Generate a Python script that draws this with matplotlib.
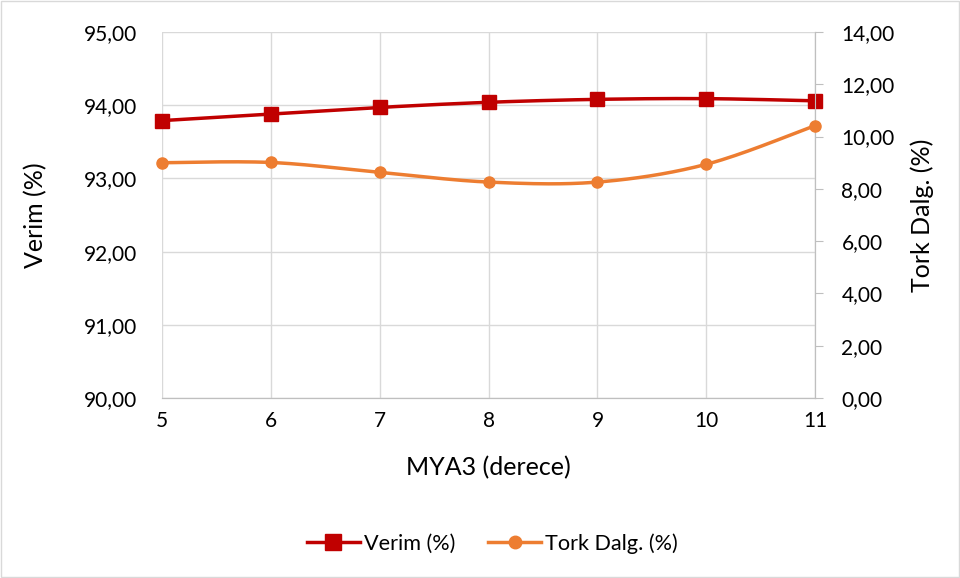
import numpy as np
import matplotlib
matplotlib.use("Agg")
import matplotlib.pyplot as plt
from matplotlib.lines import Line2D

plt.rcParams['font.family'] = ['Lato', 'DejaVu Sans']

# ---- data ----
mya3 = [5, 6, 7, 8, 9, 10, 11]
verim = [93.79, 93.88, 93.97, 94.04, 94.08, 94.09, 94.06]
tork = [9.00, 9.01, 8.63, 8.26, 8.26, 8.94, 10.42]

left_ticks = [90, 91, 92, 93, 94, 95]
right_ticks = [0, 2, 4, 6, 8, 10, 12, 14]

RED = "#c00000"
ORANGE = "#ed7d31"
GRID = "#d9d9d9"


def smooth(x, y, n=30):
    """Excel-style smoothed line: Catmull-Rom bezier through the points."""
    x = np.asarray(x, float)
    y = np.asarray(y, float)
    px = np.concatenate([[x[0]], x, [x[-1]]])
    py = np.concatenate([[y[0]], y, [y[-1]]])
    xs, ys = [], []
    t = np.linspace(0, 1, n)
    for i in range(1, len(px) - 2):
        p0 = np.array([px[i], py[i]])
        p3 = np.array([px[i + 1], py[i + 1]])
        p1 = p0 + (np.array([px[i + 1], py[i + 1]]) - np.array([px[i - 1], py[i - 1]])) / 6
        p2 = p3 - (np.array([px[i + 2], py[i + 2]]) - np.array([px[i], py[i]])) / 6
        b = ((1 - t) ** 3)[:, None] * p0 + (3 * (1 - t) ** 2 * t)[:, None] * p1 \
            + (3 * (1 - t) * t ** 2)[:, None] * p2 + (t ** 3)[:, None] * p3
        xs.append(b[:, 0]); ys.append(b[:, 1])
    return np.concatenate(xs), np.concatenate(ys)


fig = plt.figure(figsize=(9.6, 5.78), dpi=100)
fig.patches.append(plt.Rectangle((0.001, 0.001), 0.998, 0.998, transform=fig.transFigure,
                                 fill=False, edgecolor=GRID, lw=1))
ax = fig.add_axes([0.169, 0.3114, 0.680, 0.6332])
ax2 = ax.twinx()

ax.set_xlim(5, 11)
ax.set_ylim(90, 95)
ax2.set_ylim(0, 14)

ax.set_xticks(mya3)
ax.set_yticks(left_ticks)
ax2.set_yticks(right_ticks)
ax.set_yticklabels([f"{v:.2f}".replace(".", ",") for v in left_ticks])
ax2.set_yticklabels([f"{v:.2f}".replace(".", ",") for v in right_ticks])

ax.grid(True, color=GRID, lw=1)
ax.set_axisbelow(True)
for a in (ax, ax2):
    for s in ("top", "left"):
        a.spines[s].set_visible(False)
    a.spines["right"].set_color("#bfbfbf")
    a.spines["bottom"].set_color("#bfbfbf")
ax.tick_params(axis="y", length=0, labelsize=15, pad=18, colors="#000000")
ax.tick_params(axis="x", length=0, labelsize=15, pad=9, colors="#000000")
ax2.tick_params(axis="y", length=6, labelsize=15, pad=13, colors="#000000")
ax2.tick_params(axis="y", color="#bfbfbf")

xs, ys = smooth(mya3, verim)
ax.plot(xs, ys, color=RED, lw=2.5, zorder=3)
ax.plot(mya3, verim, ls="none", marker="s", ms=10, color=RED, zorder=4, clip_on=False)

xs, ys = smooth(mya3, tork)
ax2.plot(xs, ys, color=ORANGE, lw=2.5, zorder=3)
ax2.plot(mya3, tork, ls="none", marker="o", ms=8, color=ORANGE, zorder=4, clip_on=False)

ax.set_ylabel("Verim (%)", fontsize=18, color="#000000", va="center", ha="center")
ax.yaxis.set_label_coords(-0.1945, 0.5)
ax2.set_ylabel("Tork Dalg. (%)", fontsize=18, color="#000000", va="center", ha="center")
ax2.yaxis.set_label_coords(1.164, 0.5)
ax.set_xlabel("MYA3 (derece)", fontsize=18, color="#000000", va="center", ha="center")
ax.xaxis.set_label_coords(0.5, -0.191)

handles = [Line2D([], [], color=RED, lw=2.5, marker="s", ms=11),
           Line2D([], [], color=ORANGE, lw=2.5, marker="o", ms=9)]
fig.legend(handles, ["Verim (%)", "Tork Dalg. (%)"], loc="center",
           bbox_to_anchor=(0.513, 0.06), ncol=2, frameon=False, fontsize=15.6,
           handlelength=2.45, handletextpad=0.2, columnspacing=1.5)

plt.savefig("out.png", dpi=100)
